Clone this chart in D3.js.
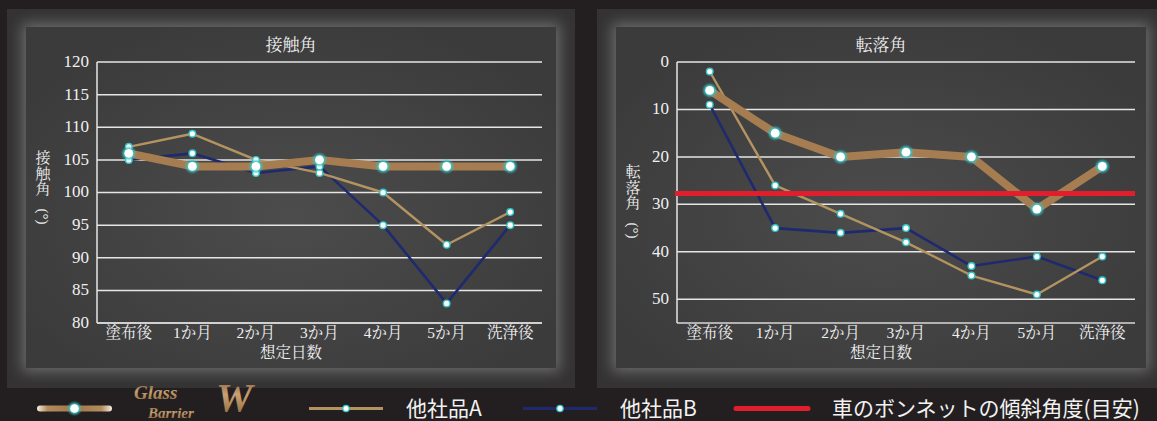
<!DOCTYPE html>
<html>
<head>
<meta charset="utf-8">
<script src="https://cdn.jsdelivr.net/npm/d3@7/dist/d3.min.js"></script>
<style>
  html, body { margin:0; padding:0; background:#231f20; }
  svg { display:block; }
</style>
</head>
<body>
<svg id="chart" width="1157" height="421"></svg>
<script>
// categories (x axis)
const categories = ["塗布後","1か月","2か月","3か月","4か月","5か月","洗浄後"];

// 接触角
const contactTicks = [80,85,90,95,100,105,110,115,120];
const contactGBW = [106,104,104,105,104,104,104];
const contactA   = [107,109,105,103,100,92,97];
const contactB   = [105,106,103,104,95,83,95];

// 転落角
const slideTicks = [0,10,20,30,40,50];
const slideGBW = [6,15,20,19,20,31,22];
const slideA   = [2,26,32,38,45,49,41];
const slideB   = [9,35,36,35,43,41,46];
const bonnetAngle = 27.7;

const legendLabels = ["他社品A","他社品B","車のボンネットの傾斜角度(目安)"];

const serif = "'Liberation Serif','Noto Serif CJK JP','Noto Sans CJK JP',serif";
const sans = "'Noto Sans CJK JP','Noto Sans',sans-serif";

const colGBW = "#a67d51", colA = "#b39461", colB = "#1f2a6e", colRed = "#e21d2c";

const svg = d3.select("#chart");
const defs = svg.append("defs");

// glow round the inner panel
defs.append("filter").attr("id","frameGlow")
    .attr("x","-20%").attr("y","-20%").attr("width","140%").attr("height","140%")
    .append("feGaussianBlur").attr("stdDeviation",7);
defs.append("filter").attr("id","dotGlow")
    .attr("x","-100%").attr("y","-100%").attr("width","300%").attr("height","300%")
    .append("feGaussianBlur").attr("stdDeviation",1.2);

var rg = defs.append("radialGradient").attr("id","panelFill")
    .attr("cx","50%").attr("cy","55%").attr("r","60%");
rg.append("stop").attr("offset","0%").attr("stop-color","#4c4c4d");
rg.append("stop").attr("offset","100%").attr("stop-color","#3b3b3c");

// gradient in user space, a flat line has no bbox height
var lg = defs.append("linearGradient").attr("id","legendGBW")
    .attr("gradientUnits","userSpaceOnUse").attr("x1",37).attr("x2",112).attr("y1",0).attr("y2",0);
[["0%","#f4ece0"],["14%","#b48c5c"],["50%","#a07648"],["86%","#b48c5c"],["100%","#f4ece0"]]
    .forEach(function(s){ lg.append("stop").attr("offset",s[0]).attr("stop-color",s[1]); });

var logoG = defs.append("linearGradient").attr("id","logoFill")
    .attr("x1","0").attr("y1","0").attr("x2","0").attr("y2","1");
[["0%","#7c5632"],["45%","#c9a072"],["100%","#8a6038"]]
    .forEach(function(s){ logoG.append("stop").attr("offset",s[0]).attr("stop-color",s[1]); });

function drawPanel(id, outer, inner){
    defs.append("clipPath").attr("id","clip"+id)
        .append("rect").attr("x",outer.x).attr("y",outer.y).attr("width",outer.w).attr("height",outer.h);
    var g = svg.append("g").attr("clip-path","url(#clip"+id+")");
    g.append("rect").attr("x",outer.x).attr("y",outer.y).attr("width",outer.w).attr("height",outer.h)
        .attr("fill","#343233");
    g.append("rect").attr("x",inner.x-4).attr("y",inner.y-4).attr("width",inner.w+8).attr("height",inner.h+8)
        .attr("fill","#6a6a6a").attr("filter","url(#frameGlow)");
    g.append("rect").attr("x",inner.x).attr("y",inner.y).attr("width",inner.w).attr("height",inner.h)
        .attr("fill","url(#panelFill)");
}

function drawDots(g, data, x, y, big){
    var r1 = big ? 6.2 : 4, r2 = big ? 4.4 : 2.6;
    g.selectAll(null).data(data).enter().append("circle")
        .attr("cx",function(d,i){ return x(categories[i]); })
        .attr("cy",function(d){ return y(d); })
        .attr("r",r1).attr("fill","#37c4c4").attr("filter", big ? "url(#dotGlow)" : null);
    g.selectAll(null).data(data).enter().append("circle")
        .attr("cx",function(d,i){ return x(categories[i]); })
        .attr("cy",function(d){ return y(d); })
        .attr("r",r2).attr("fill","#ffffff");
}

// stacked CJK chars, then the "(°)" turned sideways
function verticalTitle(g, x, top, chars){
    var step = 15.5;
    chars.split("").forEach(function(c,i){
        g.append("text").attr("x",x).attr("y",top+i*step).attr("text-anchor","middle")
            .attr("dominant-baseline","central")
            .attr("fill","#f0f0f0").style("font-family",serif).style("font-size","15px").text(c);
    });
    var py = top + chars.length*step + 4;
    g.append("text").attr("transform","translate("+x+","+py+") rotate(90)")
        .attr("x",0).attr("y",0).attr("dominant-baseline","central")
        .attr("fill","#f0f0f0").style("font-family",serif).style("font-size","15px").text("(°)");
}

function drawChart(opt){
    var x = d3.scalePoint().domain(categories).range([opt.x0, opt.x1]).padding(0.5);
    var y = d3.scaleLinear().domain(opt.domain).range([opt.y0, opt.y1]);
    var g = svg.append("g");

    // grid
    g.selectAll(null).data(opt.ticks).enter().append("line")
        .attr("x1",opt.x0).attr("x2",opt.x1)
        .attr("y1",function(d){ return y(d); }).attr("y2",function(d){ return y(d); })
        .attr("stroke","#e6e6e6").attr("stroke-width",1.5);
    // axes
    g.append("line").attr("x1",opt.x0).attr("x2",opt.x0).attr("y1",opt.y0).attr("y2",opt.y1)
        .attr("stroke","#e6e6e6").attr("stroke-width",1.5);
    g.append("line").attr("x1",opt.x0).attr("x2",opt.x1).attr("y1",opt.y1).attr("y2",opt.y1)
        .attr("stroke","#d8d8d8").attr("stroke-width",1.5);

    // tick labels
    g.selectAll(null).data(opt.ticks).enter().append("text")
        .attr("x",opt.x0-8).attr("y",function(d){ return y(d)+1; })
        .attr("text-anchor","end").attr("dominant-baseline","middle")
        .attr("fill","#f0f0f0").style("font-family",serif).style("font-size","17px")
        .text(function(d){ return d; });
    g.selectAll(null).data(categories).enter().append("text")
        .attr("x",function(d){ return x(d); }).attr("y",opt.y1+15)
        .attr("text-anchor","middle")
        .attr("fill","#f0f0f0").style("font-family",serif).style("font-size","15.5px")
        .text(function(d){ return d; });

    // titles
    g.append("text").attr("x",opt.cx).attr("y",51).attr("text-anchor","middle")
        .attr("fill","#f0f0f0").style("font-family",serif).style("font-size","17px").text(opt.title);
    g.append("text").attr("x",opt.cx).attr("y",358).attr("text-anchor","middle")
        .attr("fill","#f0f0f0").style("font-family",serif).style("font-size","15.5px").text("想定日数");
    verticalTitle(g, opt.yx, opt.ytop, opt.ytitle);

    var line = d3.line()
        .x(function(d,i){ return x(categories[i]); })
        .y(function(d){ return y(d); });

    g.append("path").datum(opt.b).attr("d",line).attr("fill","none")
        .attr("stroke",colB).attr("stroke-width",2.6).attr("stroke-linejoin","round");
    g.append("path").datum(opt.a).attr("d",line).attr("fill","none")
        .attr("stroke",colA).attr("stroke-width",2.4).attr("stroke-linejoin","round");
    g.append("path").datum(opt.gbw).attr("d",line).attr("fill","none")
        .attr("stroke",colGBW).attr("stroke-width",8).attr("stroke-linejoin","round");

    if(opt.ref !== undefined){
        g.append("line").attr("x1",opt.x0-2).attr("x2",opt.x1)
            .attr("y1",y(opt.ref)).attr("y2",y(opt.ref))
            .attr("stroke",colRed).attr("stroke-width",5);
    }

    drawDots(g, opt.a, x, y, false);
    drawDots(g, opt.b, x, y, false);
    drawDots(g, opt.gbw, x, y, true);
}

drawPanel("L", {x:7,y:9,w:568,h:379}, {x:26,y:27,w:530,h:341});
drawPanel("R", {x:597,y:9,w:560,h:379}, {x:616,y:27,w:530,h:341});

drawChart({x0:97, x1:542, y0:62, y1:323, domain:[120,80], ticks:contactTicks,
    title:"接触角", ytitle:"接触角", cx:291, yx:43, ytop:158,
    gbw:contactGBW, a:contactA, b:contactB});
drawChart({x0:677, x1:1135, y0:62, y1:323, domain:[0,55], ticks:slideTicks,
    title:"転落角", ytitle:"転落角", cx:881, yx:633, ytop:172,
    gbw:slideGBW, a:slideA, b:slideB, ref:bonnetAngle});

// legend
var leg = svg.append("g");
var ly = 408.5;
leg.append("line").attr("x1",40).attr("x2",109).attr("y1",ly).attr("y2",ly)
    .attr("stroke","url(#legendGBW)").attr("stroke-width",6).attr("stroke-linecap","round");
leg.append("circle").attr("cx",74.5).attr("cy",ly).attr("r",6).attr("fill","#37c4c4").attr("filter","url(#dotGlow)");
leg.append("circle").attr("cx",74.5).attr("cy",ly).attr("r",4.3).attr("fill","#fff");

// logo pieces
var logoFont = "'Liberation Serif',serif";
[[134,399,19,"Glass"],[148,417.5,15,"Barrier"],[216,411,41,"W"]].forEach(function(p){
    leg.append("text").attr("x",p[0]).attr("y",p[1]).attr("fill","url(#logoFill)")
        .style("font-family",logoFont).style("font-weight","bold").style("font-style","italic")
        .style("font-size",p[2]+"px").text(p[3]);
});

leg.append("line").attr("x1",309).attr("x2",383).attr("y1",ly).attr("y2",ly)
    .attr("stroke",colA).attr("stroke-width",3);
leg.append("circle").attr("cx",346).attr("cy",ly).attr("r",3.8).attr("fill","#37c4c4");
leg.append("circle").attr("cx",346).attr("cy",ly).attr("r",2.5).attr("fill","#fff");

leg.append("line").attr("x1",523).attr("x2",597).attr("y1",ly).attr("y2",ly)
    .attr("stroke",colB).attr("stroke-width",3);
leg.append("circle").attr("cx",560).attr("cy",ly).attr("r",3.8).attr("fill","#37c4c4");
leg.append("circle").attr("cx",560).attr("cy",ly).attr("r",2.5).attr("fill","#fff");

leg.append("line").attr("x1",736).attr("x2",808).attr("y1",ly).attr("y2",ly)
    .attr("stroke",colRed).attr("stroke-width",5).attr("stroke-linecap","round");

[[406,legendLabels[0]],[620,legendLabels[1]],[832,legendLabels[2]]].forEach(function(t){
    leg.append("text").attr("x",t[0]).attr("y",416).attr("fill","#f2f2f2")
        .style("font-family",sans).style("font-size","21px").text(t[1]);
});
</script>
</body>
</html>
